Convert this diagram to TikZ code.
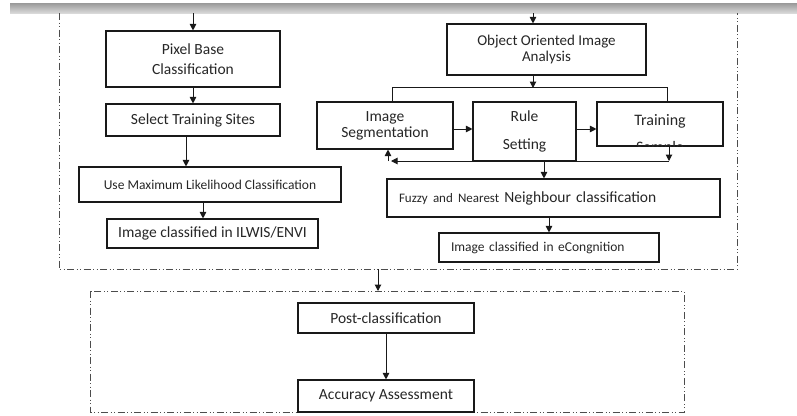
\documentclass[tikz,border=0pt]{standalone}
\usepackage{fontspec}
\setmainfont{Carlito}
\usetikzlibrary{arrows.meta}

\begin{document}
\begin{tikzpicture}[x=1pt,y=-1pt,
  box/.style={draw=black!90, line width=1.1pt, text=black!85, align=center, inner sep=0pt},
  frame/.style={draw=black!70, line width=1pt, dash pattern=on 7pt off 2.5pt on 1pt off 2.5pt on 1pt off 2.5pt},
  big/.style={font=\fontsize{15.5}{20}\selectfont},
  small/.style={font=\fontsize{13.5}{16}\selectfont},
  every edge/.style={draw=black!90, line width=1pt, -{Triangle[length=6.5pt,width=6.5pt]}}]
  \useasboundingbox (0,0) rectangle (797,415);
  \shade[top color=black!40, bottom color=black!15] (10,3) rectangle (797,13);

  % frames
  \draw[frame] (59,13) -- (59,269) -- (737,269) -- (737,13);
  \draw[frame] (90,291) rectangle (684,412);
  \coordinate (up) at (378,269);
  \coordinate (lo) at (378,291);

  % pixel based branch
  \node[box, big, minimum width=174, minimum height=56] (pb) at (193,59) {Pixel Base\\Classification};
  \node[box, big, minimum width=174, minimum height=32] (sts) at (193,120) {Select Training Sites};
  \node[box, small, minimum width=262, minimum height=35] (uml) at (210,184.5) {Use Maximum Likelihood Classification};
  \node[box, big, minimum width=211, minimum height=29] (ilw) at (212.5,233.5) {Image classified in ILWIS/ENVI};
  \coordinate (tpb) at (193,13);

  % object oriented branch
  \node[box, big, minimum width=199, minimum height=51, font=\fontsize{15}{17}\selectfont] (ooia) at (546.5,49.5) {Object Oriented Image\\Analysis};
  \node[box, big, minimum width=136, minimum height=47, font=\fontsize{15.5}{16}\selectfont] (seg) at (385,125.5) {Image\\Segmentation};
  \node[box, big, minimum width=103, minimum height=59] (rule) at (524.5,131.5) {Rule\\[8pt]Setting};
  \node[box, minimum width=126, minimum height=44] (ts) at (660,124) {};
  \begin{scope}
    \clip (ts.south west) rectangle (ts.north east);
    \node[text=black!85, align=center, inner sep=0pt, font=\fontsize{16}{27}\selectfont] (tstext) at (660,135) {Training\\Sample};
  \end{scope}
  \node[box, big, minimum width=333, minimum height=38, align=left, text width=309] (fz) at (553.5,198)
    {{\fontsize{13}{15}\selectfont Fuzzy and Nearest }Neighbour classification};
  \node[box, small, minimum width=220, minimum height=29, align=left, text width=196] (eco) at (549,247.5) {Image classified in eCongnition};
  \coordinate (tooia) at (533,13);
  \coordinate (bus) at (533,88);
  \coordinate (fbr) at (669,161);
  \coordinate (fbl) at (388,161);

  % post classification
  \node[box, big, minimum width=176, minimum height=30] (post) at (386,318) {Post-classification};
  \node[box, big, minimum width=176, minimum height=32] (acc) at (386,396) {Accuracy Assessment};

  \path (tpb) edge (pb)
        (pb) edge (sts)
        ([xshift=-7]sts.south) edge ([xshift=-24]uml.north)
        ([xshift=-7]uml.south) edge ([xshift=-9.5]ilw.north)
        (tooia) edge ([xshift=-13.5]ooia.north)
        ([xshift=-13.5]ooia.south) edge (bus)
        ([yshift=-3.5]seg.east) edge ([yshift=2.5]rule.west)
        ([yshift=2.5]rule.east) edge ([yshift=-5]ts.west)
        ([xshift=9]ts.south) edge (fbr)
        (fbr) edge ([xshift=3]fbl)
        (fbl) edge ([xshift=3]seg.south)
        ([xshift=19.5]rule.south) edge ([xshift=-9.5]fz.north)
        ([xshift=-4.5]fz.south) edge (eco)
        (up) edge (lo)
        (post) edge (acc);
  \draw[draw=black!90, line width=1pt] ([xshift=7]seg.north) -- ++(0,-14) -| ([xshift=7]ts.north);
\end{tikzpicture}
\end{document}
